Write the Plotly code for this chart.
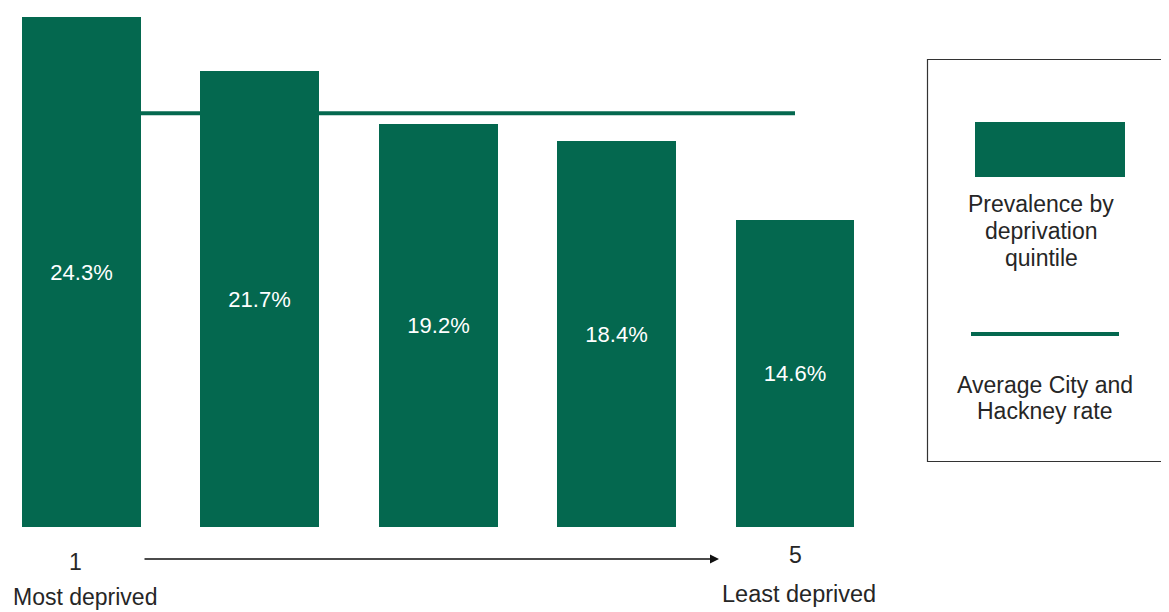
import plotly.graph_objects as go

# ---- data ----
quintiles = [1, 2, 3, 4, 5]
prevalence = [24.3, 21.7, 19.2, 18.4, 14.6]
average_rate = 19.7
bar_labels = [f"{v}%" for v in prevalence]
series_names = ["Prevalence by<br>deprivation<br>quintile", "Average City and<br>Hackney rate"]
end_labels = ["1", "5"]
end_captions = ["Most deprived", "Least deprived"]

# ---- styling / layout constants ----
OFF = 8                    # page body margin offset
W, H = 1169 - OFF, 612 - OFF
GREEN = "#04684F"
TEXT = "#262626"
FONT = "Liberation Sans, Arial, sans-serif"
PLOT_BOTTOM = 527 - OFF    # baseline row in figure pixels
PX_PER_UNIT_Y = 21.0
PX_PER_CAT = 178.375
X0 = 1 - (81.5 - OFF) / PX_PER_CAT


def px(xp):
    """reference-screen x pixel -> paper"""
    return (xp - OFF) / W


def py(yp):
    """reference-screen y pixel -> paper"""
    return (PLOT_BOTTOM - (yp - OFF)) / PLOT_BOTTOM


fig = go.Figure()
fig.add_trace(go.Bar(
    x=quintiles, y=prevalence, width=0.667,
    marker=dict(color=GREEN, line=dict(width=0)),
    text=bar_labels, textposition="inside", insidetextanchor="middle",
    constraintext="none",
    textfont=dict(color="white", size=22, family=FONT),
    insidetextfont=dict(color="white", size=22, family=FONT),
    showlegend=False, hoverinfo="skip",
))

shapes = [
    # average line (behind bars)
    dict(type="line", xref="x", yref="y", x0=quintiles[0], x1=quintiles[-1],
         y0=average_rate, y1=average_rate, layer="below",
         line=dict(color=GREEN, width=4)),
    # legend box
    dict(type="rect", xref="paper", yref="paper", x0=px(927.5), x1=px(1167.5),
         y0=py(461.5), y1=py(59.5), line=dict(color="#333333", width=1.2),
         fillcolor="rgba(0,0,0,0)"),
    # legend bar swatch
    dict(type="rect", xref="paper", yref="paper", x0=px(975), x1=px(1125),
         y0=py(177), y1=py(122), line=dict(width=0), fillcolor=GREEN),
    # legend line swatch
    dict(type="line", xref="paper", yref="paper", x0=px(971), x1=px(1119),
         y0=py(334), y1=py(334), line=dict(color=GREEN, width=4)),
]

annotations = []
for i, line in enumerate(series_names[0].split("<br>")):
    annotations.append(dict(xref="paper", yref="paper", x=px(1041), y=py(204 + 27 * i),
                            text=line, showarrow=False, xanchor="center", yanchor="middle",
                            font=dict(size=23, color=TEXT, family=FONT)))
for i, line in enumerate(series_names[1].split("<br>")):
    annotations.append(dict(xref="paper", yref="paper", x=px(1045), y=py(385 + 26 * i),
                            text=line, showarrow=False, xanchor="center", yanchor="middle",
                            font=dict(size=23, color=TEXT, family=FONT)))

annotations += [
    dict(xref="paper", yref="paper", x=px(75), y=py(562), text=end_labels[0], showarrow=False,
         xanchor="center", yanchor="middle", font=dict(size=23, color=TEXT, family=FONT)),
    dict(xref="paper", yref="paper", x=px(795), y=py(555), text=end_labels[1], showarrow=False,
         xanchor="center", yanchor="middle", font=dict(size=23, color=TEXT, family=FONT)),
    dict(xref="paper", yref="paper", x=px(85), y=py(597), text=end_captions[0], showarrow=False,
         xanchor="center", yanchor="middle", font=dict(size=23, color=TEXT, family=FONT)),
    dict(xref="paper", yref="paper", x=px(799), y=py(594), text=end_captions[1], showarrow=False,
         xanchor="center", yanchor="middle", font=dict(size=23.5, color=TEXT, family=FONT)),
    dict(xref="paper", yref="paper", x=px(719), y=py(559), ax=143 - 719, ay=0,
         axref="pixel", ayref="pixel", text="", showarrow=True,
         arrowhead=2, arrowsize=1.2, arrowwidth=1.5, arrowcolor="#111111"),
]

fig.update_layout(
    width=W, height=H,
    margin=dict(l=0, r=0, t=0, b=H - PLOT_BOTTOM, pad=0),
    paper_bgcolor="white", plot_bgcolor="white",
    xaxis=dict(range=[X0, X0 + W / PX_PER_CAT], domain=[0, 1], showgrid=False,
               zeroline=False, showticklabels=False, showline=False, ticks=""),
    yaxis=dict(range=[0, PLOT_BOTTOM / PX_PER_UNIT_Y], showgrid=False, zeroline=False,
               showticklabels=False, showline=False, ticks=""),
    shapes=shapes, annotations=annotations,
    showlegend=False, bargap=0,
)

fig.write_html("out.html")
